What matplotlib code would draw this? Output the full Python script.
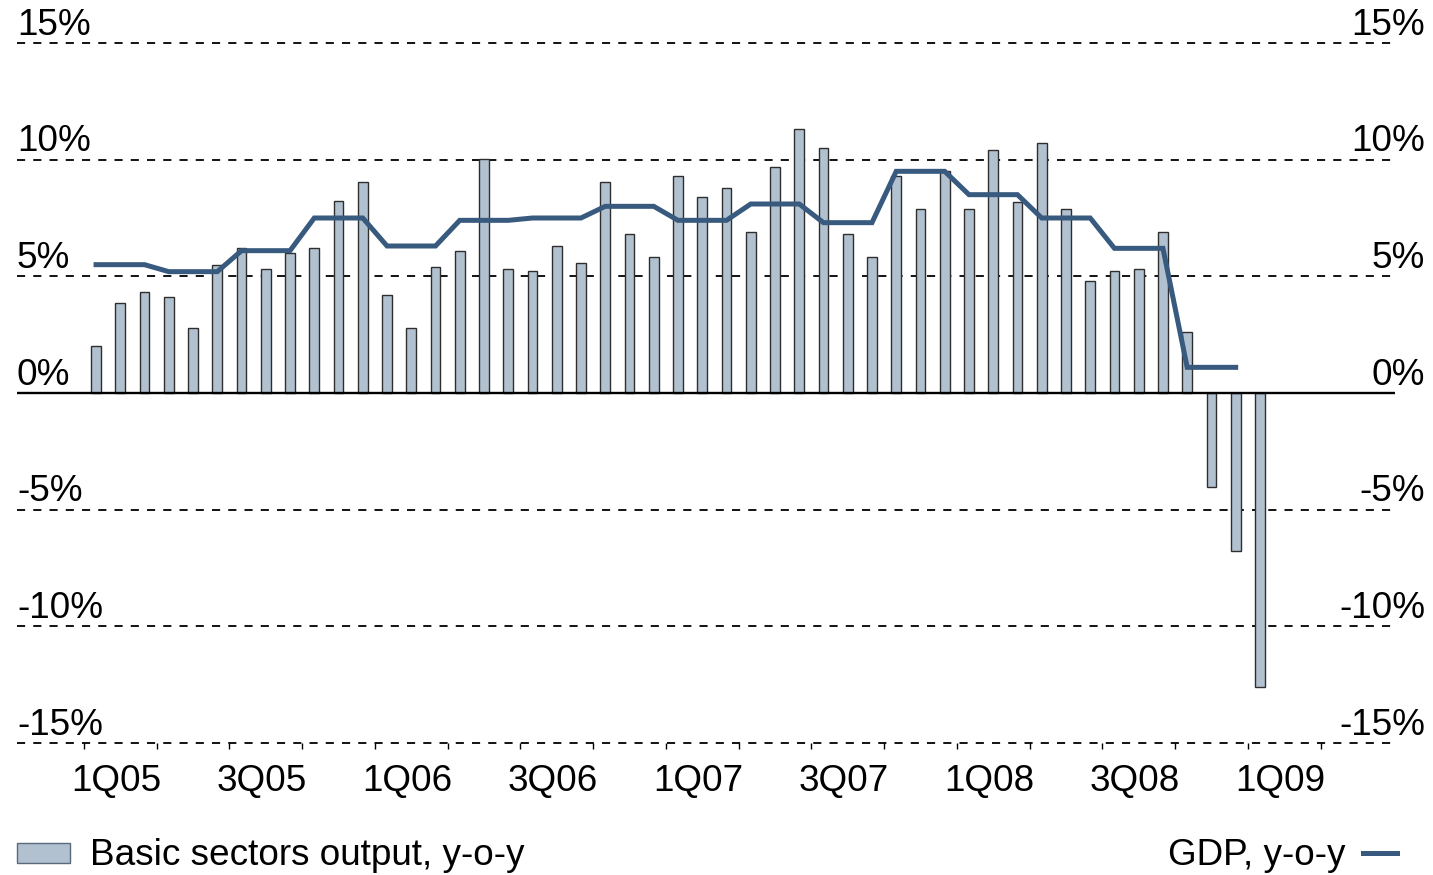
import numpy as np
import matplotlib
matplotlib.use("Agg")
import matplotlib.pyplot as plt
from matplotlib.patches import Rectangle
from matplotlib.lines import Line2D
from matplotlib.transforms import blended_transform_factory

plt.rcParams['font.family'] = ['Liberation Sans', 'DejaVu Sans']

# monthly basic sectors output y-o-y, Jan-05 .. Jan-09
basic_output = [2.03, 3.84, 4.33, 4.10, 2.79, 5.50, 6.21, 5.31, 6.00, 6.21, 8.21, 9.03,
                4.19, 2.79, 5.41, 6.09, 10.01, 5.31, 5.23, 6.31, 5.59, 9.03, 6.80, 5.81,
                9.29, 8.39, 8.79, 6.89, 9.70, 11.31, 10.50, 6.80, 5.81, 9.29, 7.90, 9.50,
                7.90, 10.43, 8.20, 10.70, 7.90, 4.80, 5.24, 5.31, 6.90, 2.60,
                -4.02, -6.76, -12.59]

# quarterly GDP y-o-y, 1Q05 .. 4Q08 (drawn at each month of the quarter)
gdp_quarterly = [5.5, 5.2, 6.1, 7.5, 6.3, 7.4, 7.5, 8.0,
                 7.4, 8.1, 7.3, 9.5, 8.5, 7.5, 6.2, 1.1]

quarter_labels = ['1Q05', '3Q05', '1Q06', '3Q06', '1Q07', '3Q07', '1Q08', '3Q08', '1Q09']
y_levels = [15, 10, 5, 0, -5, -10, -15]

BAR_COLOR = '#B2C1D0'
LINE_COLOR = '#375A7E'
FS = 26.6

W, H = 1433, 875
fig = plt.figure(figsize=(W / 100, H / 100), dpi=100)
ax = fig.add_axes([17 / W, 1 - 743 / H, (1395 - 17) / W, 700 / H])

months = np.arange(len(basic_output))
ax.bar(months, basic_output, width=0.4, color=BAR_COLOR, edgecolor='#2e2e2e',
       linewidth=1.0, zorder=2)

gdp_monthly = np.repeat(gdp_quarterly, 3)
ax.plot(np.arange(len(gdp_monthly)), gdp_monthly, color=LINE_COLOR, lw=3.6,
        solid_joinstyle='miter', zorder=3)

ax.set_xlim(-3.26, 53.57)
ax.set_ylim(-15, 15)

# grid
for v in y_levels:
    if v == 0:
        ax.axhline(0, color='black', lw=1.7, zorder=2.5)
    else:
        ax.axhline(v, color='black', lw=1.3, linestyle=(0, (4.5, 4.5)), zorder=1,
                   clip_on=False)

for s in ax.spines.values():
    s.set_visible(False)

# y labels on both sides, sitting above each grid line
tr = blended_transform_factory(ax.transAxes, ax.transData)
for v in y_levels:
    lab = f'{v}%'
    ax.annotate(lab, (0, v), xycoords=tr, xytext=(0, 6), textcoords='offset points',
                ha='left', va='baseline', fontsize=FS)
    ax.annotate(lab, (1.0218, v), xycoords=tr, xytext=(0, 6), textcoords='offset points',
                ha='right', va='baseline', fontsize=FS, annotation_clip=False)
ax.set_yticks([])

# x axis: quarter tick marks, half-year labels
ax.set_xticks(np.arange(len(quarter_labels)) * 6 + 0.85)
ax.set_xticklabels(quarter_labels, fontsize=FS)
ax.set_xticks(np.arange(18) * 3 - 0.5, minor=True)
ax.tick_params(axis='x', which='major', length=0, pad=15)
ax.tick_params(axis='x', which='minor', length=4.5, width=1, color='black', direction='out')

# legend
fig.add_artist(Rectangle((17 / W, 1 - 863 / H), 53 / W, 20.5 / H, transform=fig.transFigure,
                         facecolor=BAR_COLOR, edgecolor='#5a6a7a', lw=1))
fig.text(90 / W, 1 - 865 / H, 'Basic sectors output, y-o-y', fontsize=FS, va='baseline', ha='left')
fig.text(1345 / W, 1 - 865 / H, 'GDP, y-o-y', fontsize=FS, va='baseline', ha='right')
fig.add_artist(Line2D([1363 / W, 1397 / W], [1 - 853 / H, 1 - 853 / H], transform=fig.transFigure,
                      color=LINE_COLOR, lw=3.6))

fig.savefig('out.png', dpi=100)
